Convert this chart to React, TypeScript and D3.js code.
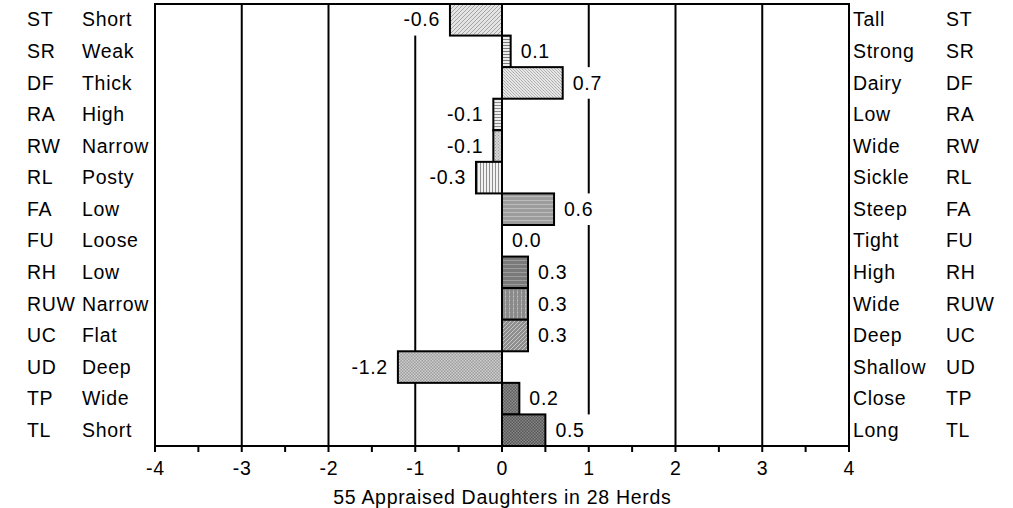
import * as d3 from 'd3';

// trait codes, low-end and high-end descriptors, and daughter averages
const codes = ['ST', 'SR', 'DF', 'RA', 'RW', 'RL', 'FA', 'FU', 'RH', 'RUW', 'UC', 'UD', 'TP', 'TL'];
const lowLabels = ['Short', 'Weak', 'Thick', 'High', 'Narrow', 'Posty', 'Low', 'Loose', 'Low', 'Narrow', 'Flat', 'Deep', 'Wide', 'Short'];
const highLabels = ['Tall', 'Strong', 'Dairy', 'Low', 'Wide', 'Sickle', 'Steep', 'Tight', 'High', 'Wide', 'Deep', 'Shallow', 'Close', 'Long'];
const values = [-0.6, 0.1, 0.7, -0.1, -0.1, -0.3, 0.6, 0.0, 0.3, 0.3, 0.3, -1.2, 0.2, 0.5];
const xTicks = [-4, -3, -2, -1, 0, 1, 2, 3, 4];
const gridTicks = [-3, -2, -1, 0, 1, 2, 3];
const minorTicks = d3.range(-4, 4.01, 0.5);
const xTitle = '55 Appraised Daughters in 28 Herds';

const W = 1013;
const H = 508;
const FONT = '"Liberation Sans", Arial, sans-serif';
const FS = 19.5;
const LS = 0.7;
const DY = 1.5;

// one hatch per bar: background, line colour, kind
const patterns = [
  { bg: '#e4e4e4', fg: '#a4a4a4', kind: 'diag' },
  { bg: '#ececec', fg: '#7a7a7a', kind: 'horiz' },
  { bg: '#e6e6e6', fg: '#a8a8a8', kind: 'diag2' },
  { bg: '#eeeeee', fg: '#8a8a8a', kind: 'horiz' },
  { bg: '#d6d6d6', fg: '#9c9c9c', kind: 'dots' },
  { bg: '#f2f2f2', fg: '#8e8e8e', kind: 'vert' },
  { bg: '#9c9c9c', fg: '#c4c4c4', kind: 'wave' },
  { bg: '#ffffff', fg: '#ffffff', kind: 'none' },
  { bg: '#7a7a7a', fg: '#a4a4a4', kind: 'wave' },
  { bg: '#8a8a8a', fg: '#c4c4c4', kind: 'vdots' },
  { bg: '#8e8e8e', fg: '#c8c8c8', kind: 'diag' },
  { bg: '#9c9c9c', fg: '#d0d0d0', kind: 'check' },
  { bg: '#5e5e5e', fg: '#8e8e8e', kind: 'check' },
  { bg: '#555555', fg: '#888888', kind: 'check' },
];

function Pattern({ id, p }: { id: string; p: { bg: string; fg: string; kind: string } }) {
  let size = 4;
  let body = null;
  if (p.kind === 'diag') {
    body = <path d="M-1,1 l2,-2 M0,4 l4,-4 M3,5 l2,-2" stroke={p.fg} strokeWidth={1} />;
  } else if (p.kind === 'diag2') {
    size = 3;
    body = <path d="M-1,-1 l2,2 M0,0 l3,3 M2,-1 l2,2 M-1,2 l2,2" stroke={p.fg} strokeWidth={0.8} />;
  } else if (p.kind === 'horiz') {
    size = 3;
    body = <rect x={0} y={0} width={3} height={1} fill={p.fg} />;
  } else if (p.kind === 'vert') {
    size = 3;
    body = <rect x={0} y={0} width={1} height={3} fill={p.fg} />;
  } else if (p.kind === 'dots') {
    size = 3;
    body = <g fill={p.fg}><rect x={0} y={0} width={1} height={1} /><rect x={1.5} y={1.5} width={1} height={1} /></g>;
  } else if (p.kind === 'vdots') {
    size = 4;
    body = <g fill={p.fg}><rect x={1} y={0} width={1} height={1.5} /><rect x={1} y={2.5} width={1} height={1} /></g>;
  } else if (p.kind === 'wave') {
    size = 4;
    body = <path d="M0,1 l1,-1 l1,1 l1,-1 l1,1" stroke={p.fg} strokeWidth={0.8} fill="none" />;
  } else if (p.kind === 'check') {
    size = 3;
    body = <g fill={p.fg}><rect x={0} y={0} width={1.5} height={1.5} /><rect x={1.5} y={1.5} width={1.5} height={1.5} /></g>;
  }
  return (
    <pattern id={id} patternUnits="userSpaceOnUse" width={size} height={size}>
      <rect width={size} height={size} fill={p.bg} />
      {body}
    </pattern>
  );
}

export default function App() {
  const left = 155;
  const right = 849;
  const top = 4;
  const bottom = 446;

  const x = d3.scaleLinear().domain([-4, 4]).range([left, right]);
  const y = d3.scaleBand<string>().domain(codes).range([top, bottom]).padding(0);
  const bw = y.bandwidth();

  const fmt = (v: number) => v.toFixed(1);
  const textW = (s: string) => s.length * 9 + (s.startsWith('-') ? 0 : -2);

  return (
    <svg width={W} height={H} style={{ position: 'absolute', left: 0, top: 0, background: '#fff' }}
      fontFamily={FONT} fontSize={FS} letterSpacing={LS}>
      <defs>
        {patterns.map((p, i) => <Pattern key={i} id={`pat${i}`} p={p} />)}
      </defs>
      <rect width={W} height={H} fill="#fff" />

      {/* gridlines */}
      {gridTicks.map(t => (
        <line key={t} x1={x(t)} x2={x(t)} y1={top} y2={bottom} stroke="#000" strokeWidth={2} />
      ))}

      {/* label backgrounds */}
      {codes.map((c, i) => {
        const v = values[i];
        const s = fmt(v);
        const w = textW(s);
        const y0 = y(c)!;
        const bx = v < 0 ? x(v) - 10 - w - 4 : x(v) + 6;
        return <rect key={c} x={bx} y={y0} width={w + 14} height={bw} fill="#fff" />;
      })}

      {/* bars */}
      {codes.map((c, i) => {
        const v = values[i];
        if (v === 0) return null;
        return (
          <rect key={c} x={Math.min(x(0), x(v))} y={y(c)!} width={Math.abs(x(v) - x(0))} height={bw}
            fill={`url(#pat${i})`} stroke="#000" strokeWidth={2} />
        );
      })}

      {/* frame */}
      <rect x={left} y={top} width={right - left} height={bottom - top} fill="none" stroke="#000" strokeWidth={2} />

      {/* axis ticks */}
      {minorTicks.map(t => (
        <line key={t} x1={x(t)} x2={x(t)} y1={bottom} y2={bottom + 6} stroke="#000" strokeWidth={2} />
      ))}
      {xTicks.map(t => (
        <text key={t} x={x(t) + LS / 2} y={bottom + 22 + DY} textAnchor="middle" dominantBaseline="middle">{t}</text>
      ))}
      <text x={x(0) + LS / 2} y={bottom + 51 + DY} textAnchor="middle" dominantBaseline="middle">{xTitle}</text>

      {/* value labels */}
      {codes.map((c, i) => {
        const v = values[i];
        const cy = y(c)! + bw / 2 + DY;
        return (
          <text key={c} x={v < 0 ? x(v) - 10 : x(v) + 10} y={cy} textAnchor={v < 0 ? 'end' : 'start'}
            dominantBaseline="middle">{fmt(v)}</text>
        );
      })}

      {/* side labels */}
      {codes.map((c, i) => {
        const cy = y(c)! + bw / 2 + DY;
        return (
          <g key={c}>
            <text x={27} y={cy} dominantBaseline="middle">{c}</text>
            <text x={82} y={cy} dominantBaseline="middle">{lowLabels[i]}</text>
            <text x={853} y={cy} dominantBaseline="middle">{highLabels[i]}</text>
            <text x={946} y={cy} dominantBaseline="middle">{c}</text>
          </g>
        );
      })}
    </svg>
  );
}
